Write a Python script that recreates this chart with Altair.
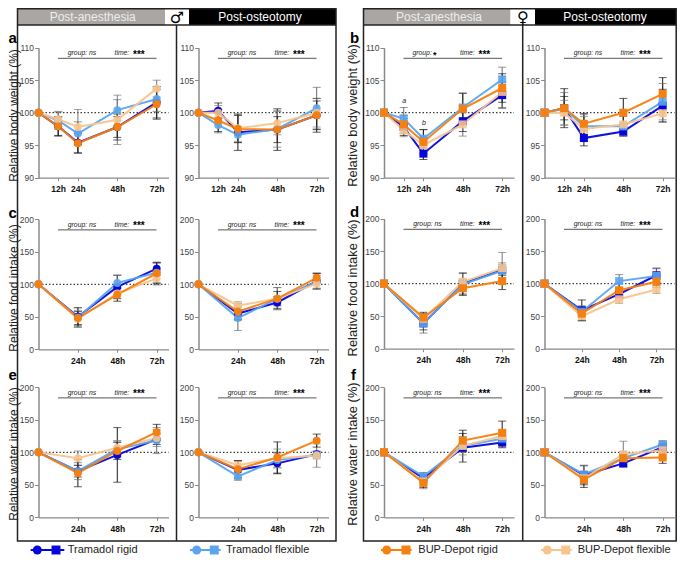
import altair as alt
import pandas as pd

FONT = "Liberation Sans"
W, H = 669, 547

series = ["TR", "TF", "BF", "BR"]
colors = {"TR": "#0505DC", "TF": "#5AA5EE", "BF": "#F8C48E", "BR": "#F57F0F"}
err_colors = {"TR": "#1a1a1a", "TF": "#6a6a6a", "BF": "#777777", "BR": "#1a1a1a"}
opac = {"TR": 1.0, "TF": 0.9, "BF": 0.9, "BR": 1.0}

t5 = [0, 12, 24, 48, 72]
t4 = [0, 24, 48, 72]

# Means: tramadol rigid / flexible, BUP-Depot flexible / rigid
a1 = {"TR": [100, 97.9, 95.4, 97.8, 101.6], "TF": [100, 98.8, 96.8, 100.4, 102.1], "BF": [100, 99.0, 97.8, 98.9, 103.7], "BR": [100, 97.9, 95.3, 97.8, 101.3]}
a2 = {"TR": [100, 100.3, 97.0, 97.4, 99.6], "TF": [100, 98.1, 96.6, 97.5, 100.7], "BF": [100, 100.0, 97.6, 98.4, 100.0], "BR": [100, 98.8, 97.5, 97.4, 99.6]}
b1 = {"TR": [100, 97.8, 93.7, 98.7, 102.7], "TF": [100, 99.1, 96.0, 100.8, 105.1], "BF": [100, 97.3, 95.0, 98.2, 103.2], "BR": [100, 98.2, 95.5, 100.6, 103.8]}
b2 = {"TR": [100, 100.7, 96.1, 97.1, 101.1], "TF": [100, 100.6, 97.9, 97.9, 101.7], "BF": [100, 100.0, 97.5, 98.2, 99.9], "BR": [100, 100.7, 98.3, 100.0, 102.9]}
c1 = {"TR": [100, 50, 96, 124], "TF": [100, 49, 102, 118], "BF": [100, 47, 86, 109], "BR": [100, 48, 84, 117]}
c2 = {"TR": [100, 55, 72, 105], "TF": [100, 48, 78, 104], "BF": [100, 67, 78, 101], "BR": [100, 58, 78, 110]}
d1 = {"TR": [100, 39, 100, 121], "TF": [100, 39, 99, 120], "BF": [100, 46, 103, 124], "BR": [100, 48, 93, 104]}
d2 = {"TR": [100, 59, 84, 113], "TF": [100, 57, 104, 112], "BF": [100, 50, 76, 91], "BR": [100, 54, 90, 103]}
e1 = {"TR": [100, 71, 96, 120], "TF": [100, 71, 105, 118], "BF": [100, 91, 107, 122], "BR": [100, 68, 102, 131]}
e2 = {"TR": [100, 73, 83, 97], "TF": [100, 63, 88, 96], "BF": [100, 80, 91, 95], "BR": [100, 74, 92, 118]}
f1 = {"TR": [100, 60, 107, 115], "TF": [100, 63, 110, 121], "BF": [100, 55, 110, 125], "BR": [100, 53, 118, 130]}
f2 = {"TR": [100, 65, 83, 108], "TF": [100, 66, 91, 112], "BF": [100, 60, 97, 103], "BR": [100, 58, 91, 92]}

# Error half-lengths, same order
a1e = {"TR": [0, 1.4, 1.6, 2.0, 2.4], "TF": [0, 1.3, 1.8, 1.6, 1.9], "BF": [0, 1.2, 2.7, 3.8, 1.3], "BR": [0, 1.5, 1.5, 1.6, 2.3]}
a2e = {"TR": [0, 1.2, 2.8, 3.2, 2.6], "TF": [0, 1.2, 1.2, 2.8, 3.2], "BF": [0, 1.1, 2.0, 1.8, 2.2], "BR": [0, 1.7, 2.1, 2.0, 2.2]}
b1e = {"TR": [0, 1.3, 0.9, 1.6, 2.0], "TF": [0, 1.7, 1.4, 2.2, 1.9], "BF": [0, 1.0, 1.2, 1.8, 2.4], "BR": [0, 1.4, 1.9, 2.4, 2.2]}
b2e = {"TR": [0, 1.8, 1.2, 0.7, 2.5], "TF": [0, 2.5, 1.8, 1.5, 2.8], "BF": [0, 1.9, 1.9, 1.7, 1.4], "BR": [0, 3.0, 1.6, 2.2, 2.5]}
c1e = {"TR": [0, 14, 18, 10], "TF": [0, 15, 12, 15], "BF": [0, 13, 8, 10], "BR": [0, 10, 10, 16]}
c2e = {"TR": [0, 10, 9, 12], "TF": [0, 19, 17, 10], "BF": [0, 6, 17, 9], "BR": [0, 12, 11, 7]}
d1e = {"TR": [0, 10, 16, 8], "TF": [0, 15, 8, 12], "BF": [0, 8, 14, 24], "BR": [0, 8, 11, 13]}
d2e = {"TR": [0, 16, 8, 11], "TF": [0, 9, 10, 11], "BF": [0, 7, 6, 6], "BR": [0, 10, 11, 9]}
e1e = {"TR": [0, 9, 42, 8], "TF": [0, 13, 12, 20], "BF": [0, 11, 11, 13], "BR": [0, 21, 13, 12]}
e2e = {"TR": [0, 14, 16, 4], "TF": [0, 6, 12, 6], "BF": [0, 7, 14, 18], "BR": [0, 13, 24, 10]}
f1e = {"TR": [0, 8, 22, 8], "TF": [0, 6, 10, 13], "BF": [0, 11, 14, 8], "BR": [0, 7, 16, 18]}
f2e = {"TR": [0, 15, 5, 8], "TF": [0, 13, 10, 6], "BF": [0, 8, 20, 12], "BR": [0, 12, 7, 9]}

weight_dom, weight_ticks = [90, 110], [90, 95, 100, 105, 110]
intake_dom, intake_ticks = [0, 200], [0, 50, 100, 150, 200]

#        means errs times x0 ytop domain ticks shape xmax group
panels = [
    (a1, a1e, t5, 38.5, 47.7, weight_dom, weight_ticks, "circle", 79.2, "ns"),
    (a2, a2e, t5, 198.5, 47.7, weight_dom, weight_ticks, "circle", 79.2, "ns"),
    (b1, b1e, t5, 384.0, 47.7, weight_dom, weight_ticks, "square", 79.2, "*"),
    (b2, b2e, t5, 544.5, 47.7, weight_dom, weight_ticks, "square", 79.2, "ns"),
    (c1, c1e, t4, 38.5, 219.3, intake_dom, intake_ticks, "circle", 79.2, "ns"),
    (c2, c2e, t4, 198.5, 219.3, intake_dom, intake_ticks, "circle", 79.2, "ns"),
    (d1, d1e, t4, 384.0, 218.7, intake_dom, intake_ticks, "square", 79.2, "ns"),
    (d2, d2e, t4, 544.5, 218.7, intake_dom, intake_ticks, "square", 83.6, "ns"),
    (e1, e1e, t4, 38.5, 387.3, intake_dom, intake_ticks, "circle", 79.2, "ns"),
    (e2, e2e, t4, 198.5, 387.3, intake_dom, intake_ticks, "circle", 79.2, "ns"),
    (f1, f1e, t4, 384.0, 387.3, intake_dom, intake_ticks, "square", 79.2, "ns"),
    (f2, f2e, t4, 544.5, 387.3, intake_dom, intake_ticks, "square", 79.2, "ns"),
]


def px(v):
    return v - 8


def text(s, x, y, size=10, weight="normal", style="normal", color="black", align="left",
         angle=0, font=FONT, baseline="middle"):
    kw = dict(text=s, fontSize=size, fontWeight=weight, fontStyle=style, color=color, align=align,
              baseline=baseline, font=font)
    if angle:
        kw["angle"] = angle
    return alt.Chart().mark_text(**kw).encode(x=alt.value(px(x)), y=alt.value(px(y)))


def rect(x1, x2, y1, y2, fill=None, stroke=None, sw=1.5):
    kw = {}
    kw["fill"] = fill if fill else "transparent"
    if stroke:
        kw["stroke"] = stroke
        kw["strokeWidth"] = sw
    return alt.Chart().mark_rect(**kw).encode(
        x=alt.value(px(x1)), x2=alt.value(px(x2)), y=alt.value(px(y1)), y2=alt.value(px(y2)))


def hline(x1, x2, y, color, sw=1.0):
    return alt.Chart().mark_rule(color=color, strokeWidth=sw).encode(
        x=alt.value(px(x1)), x2=alt.value(px(x2)), y=alt.value(px(y)))


def vline(x, y1, y2, color, sw=1.0):
    return alt.Chart().mark_rule(color=color, strokeWidth=sw).encode(
        x=alt.value(px(x)), y=alt.value(px(y1)), y2=alt.value(px(y2)))


layers = []

# Frames and header strips
TOP = 8.75
BOT = 541
for xl, xg, xb, xr, xm, sym, tg, tb in [
    (17.5, 165, 189, 336, 176.5, "\u2642", 92.7, 260),
    (363.5, 510.5, 535, 676.2, 522.7, "\u2640", 439, 605),
]:
    layers.append(rect(xl, xg, TOP, 25, fill="#A9A6A4"))
    layers.append(rect(xg, xb, TOP, 25, fill="white"))
    layers.append(rect(xb, xr, TOP, 25, fill="black"))
    layers.append(rect(xl, xr, TOP, BOT, stroke="#222222", sw=1.5))
    layers.append(hline(xl, xr, 25, "#222222", 1.5))
    layers.append(vline(xm, 25, BOT, "#222222", 1.5))
    layers.append(text("Post-anesthesia", tg, 17, size=12, color="#EEEEEE", align="center"))
    layers.append(text("Post-osteotomy", tb, 17, size=12, color="white", align="center"))
    layers.append(text(sym, (xg + xb) / 2, 17.5, size=16, color="black", align="center", font="DejaVu Sans"))

# Panels
for means, errs, times, x0, ytop, dom, ticks, shape, xmax, grp in panels:
    rows = []
    for s in series:
        for t, m, e in zip(times, means[s], errs[s]):
            rows.append(dict(t=t, v=m, lo=m - e, hi=m + e, e=e, c=colors[s], ec=err_colors[s], o=opac[s]))
    df = pd.DataFrame(rows)
    df_err = df[df.e > 0]
    xs = alt.Scale(domain=[0, xmax], range=[px(x0), px(x0 + 130)], nice=False, zero=False)
    ys = alt.Scale(domain=dom, range=[px(ytop + 130), px(ytop)], nice=False, zero=False)
    xnone = alt.X("t:Q", scale=xs, axis=None)
    ynone = alt.Y("v:Q", scale=ys, axis=None)

    base_row = pd.DataFrame({"t0": [0], "t1": [xmax], "y": [100]})
    xaxis = alt.Axis(orient="bottom", values=times[1:], labelExpr="datum.value + 'h'", title=None, grid=False,
                     offset=-(H - px(ytop + 130)), labelFontWeight="bold", labelFontSize=8.5, labelColor="#111111",
                     labelFont=FONT, domainColor="#8A8A8A", domainWidth=1.2, tickColor="#8A8A8A", tickSize=3,
                     labelPadding=4, labelOverlap=False, labelFlush=False)
    yaxis = alt.Axis(orient="left", values=ticks, title=None, grid=False, offset=-px(x0), labelFontSize=8.5,
                     labelColor="#444444", labelFont=FONT, domainColor="#8A8A8A", domainWidth=1.5,
                     tickColor="#8A8A8A", tickSize=4, labelPadding=1, labelOverlap=False, labelFlush=False)
    layers.append(
        alt.Chart(base_row).mark_rule(color="#111111", strokeWidth=1, strokeDash=[1.5, 2]).encode(
            x=alt.X("t0:Q", scale=xs, axis=xaxis), x2="t1:Q", y=alt.Y("y:Q", scale=ys, axis=yaxis))
    )
    ec = alt.Color("ec:N", scale=None)
    layers.append(alt.Chart(df_err).mark_rule(strokeWidth=1).encode(
        x=xnone, y=alt.Y("lo:Q", scale=ys, axis=None), y2="hi:Q", color=ec))
    for fld in ["lo", "hi"]:
        layers.append(alt.Chart(df_err).mark_tick(orient="horizontal", size=8, thickness=1).encode(
            x=xnone, y=alt.Y(f"{fld}:Q", scale=ys, axis=None), color=ec))
    layers.append(alt.Chart(df).mark_line(strokeWidth=2).encode(
        x=xnone, y=ynone, color=alt.Color("c:N", scale=None, sort=None),
        order=alt.Order("t:Q"), opacity=alt.value(0.95)))
    layers.append(alt.Chart(df).mark_point(filled=True, shape=shape, size=62 if shape == "circle" else 64).encode(
        x=xnone, y=ynone, color=alt.Color("c:N", scale=None), opacity=alt.Opacity("o:Q", scale=None)))

    # Statistics annotation
    ann_y = ytop + 5.5
    layers.append(hline(x0 + 19.5, x0 + 118, ytop + 10.6, "#555555", 1))
    if grp == "ns":
        layers.append(text("group: ns", x0 + 43.5, ann_y, size=6.8, style="italic", color="#222222", align="center"))
    else:
        layers.append(text("group:", x0 + 28.5, ann_y, size=6.8, style="italic", color="#222222"))
        layers.append(text("*", x0 + 49, ann_y + 1.5, size=9, weight="bold"))
    layers.append(text("time:", x0 + 76, ann_y, size=6.8, style="italic", color="#222222"))
    layers.append(text("***", x0 + 94.5, ann_y + 1.5, size=10, weight="bold"))

# Significance letters in panel b
layers.append(text("a", 404.3, 101, size=7, style="italic", color="#222222", align="center"))
layers.append(text("b", 424, 122.5, size=7, style="italic", color="#222222", align="center"))

# Row titles and panel letters
for t_, y_ in [("Relative body weight (%)", 115.5), ("Relative food intake (%)", 288), ("Relative water intake (%)", 454)]:
    layers.append(text(t_, 14, y_, size=12, color="#222222", align="center", angle=270))
    layers.append(text(t_, 353, y_, size=12.9, color="#222222", align="center", angle=270))
for t_, x_, y_ in [("a", 8.5, 38), ("c", 8.5, 213), ("e", 8.5, 375), ("b", 350, 38), ("d", 350, 212), ("f", 351, 375)]:
    layers.append(text(t_, x_, y_, size=15, weight="bold"))

# Legend strip
legend_y = 550
legend_items = [
    ("Tramadol rigid", "TR", 30.7, 64.3, 37.3, 56, 67.7),
    ("Tramadol flexible", "TF", 190, 220.7, 196.7, 214.3, 226),
    ("BUP-Depot rigid", "BR", 381, 411.7, 386.7, 406, 418.3),
    ("BUP-Depot flexible", "BF", 541, 571.7, 547.3, 565.7, 577.7),
]
for name, key, lx1, lx2, cx, sx, tx in legend_items:
    layers.append(hline(lx1, lx2, legend_y, colors[key], 2))
    layers.append(alt.Chart().mark_point(filled=True, shape="circle", size=80, color=colors[key], opacity=1).encode(
        x=alt.value(px(cx)), y=alt.value(px(legend_y))))
    layers.append(alt.Chart().mark_point(filled=True, shape="square", size=80, color=colors[key], opacity=1).encode(
        x=alt.value(px(sx)), y=alt.value(px(legend_y))))
    layers.append(text(name, tx, legend_y, size=11, color="#222222"))

chart = (
    alt.layer(*layers)
    .resolve_scale(x="independent", y="independent")
    .properties(width=W, height=H, padding=0, autosize=alt.AutoSizeParams(type="none"), background="white")
    .configure_view(stroke=None)
)

chart.save("out.html", embed_options={"renderer": "svg", "actions": False})
